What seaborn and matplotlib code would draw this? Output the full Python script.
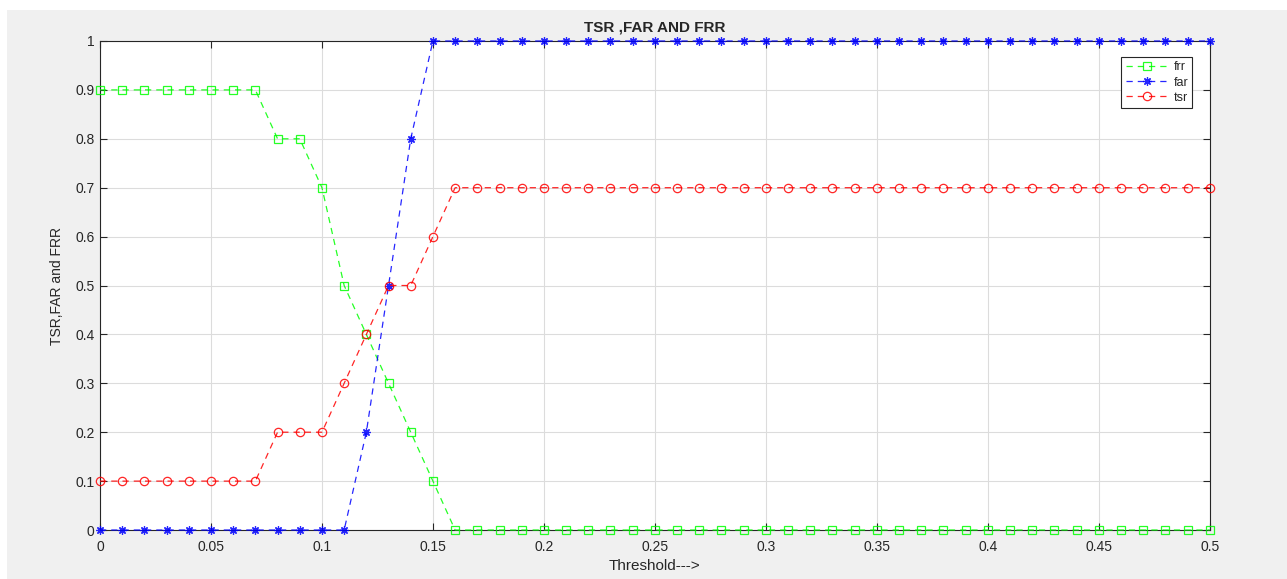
import numpy as np
import matplotlib
matplotlib.use("Agg")
import matplotlib.pyplot as plt
import seaborn as sns
from matplotlib.patches import Rectangle

# Threshold values (0 to 0.5 in steps of 0.01)
threshold = [round(i * 0.01, 2) for i in range(51)]

# False rejection rate
frr = [0.9, 0.9, 0.9, 0.9, 0.9, 0.9, 0.9, 0.9, 0.8, 0.8,
       0.7, 0.5, 0.4, 0.3, 0.2, 0.1] + [0.0] * 35
# False acceptance rate
far = [0.0] * 12 + [0.2, 0.5, 0.8] + [1.0] * 36
# True success rate
tsr = [0.1, 0.1, 0.1, 0.1, 0.1, 0.1, 0.1, 0.1, 0.2, 0.2,
       0.2, 0.3, 0.4, 0.5, 0.5, 0.6] + [0.7] * 35

series_names = ["frr", "far", "tsr"]
series_colors = ["#00ff00", "#0000ff", "#ff0000"]
series_markers = ["s", (8, 2, 0), "o"]

sns.set_style("whitegrid")
plt.rcParams["font.family"] = ["Liberation Sans", "DejaVu Sans"]

fig = plt.figure(figsize=(12.87, 5.79), dpi=100, facecolor="white")
# grey figure panel like the MATLAB window, with a thin white border top/left
fig.patches.append(Rectangle((7 / 1287, 0), 1, 1 - 10 / 579, transform=fig.transFigure,
                             facecolor="#f0f0f0", edgecolor="none", zorder=-10))
ax = fig.add_axes([0.0777, 0.0846, 0.8623, 0.8446])
ax.set_facecolor("white")

for name, vals, col, mk in zip(series_names, [frr, far, tsr], series_colors, series_markers):
    sns.lineplot(x=threshold, y=vals, ax=ax, color=col, linestyle="--", linewidth=0.9,
                 marker=mk, markersize=6 if mk != "s" else 5.5,
                 markerfacecolor="none",
                 markeredgecolor=col, markeredgewidth=0.9, label=name, alpha=0.85,
                 clip_on=False, zorder=3)

for ln in ax.lines:
    ln.set_dashes([5, 4])

ax.set_xlim(0, 0.5)
ax.set_ylim(0, 1)
ax.set_xticks(np.arange(0, 0.51, 0.05))
ax.set_xticklabels(["0", "0.05", "0.1", "0.15", "0.2", "0.25", "0.3", "0.35", "0.4", "0.45", "0.5"])
ax.set_yticks(np.arange(0, 1.01, 0.1))
ax.set_yticklabels(["0", "0.1", "0.2", "0.3", "0.4", "0.5", "0.6", "0.7", "0.8", "0.9", "1"])
ax.tick_params(direction="in", length=5, color="#262626", labelsize=10,
               labelcolor="#262626", top=True, right=True, left=True, bottom=True, pad=4)
ax.tick_params(axis="x", pad=7)
ax.grid(True, color="#dcdcdc", linewidth=0.8)
for s in ax.spines.values():
    s.set_color("#262626")
    s.set_linewidth(0.8)

ax.set_title("TSR ,FAR AND FRR", fontsize=11, fontweight="bold", pad=7)
ax.set_xlabel("Threshold--->", fontsize=11, color="#262626", labelpad=4)
ax.set_ylabel("TSR,FAR and FRR", fontsize=10, color="#262626", labelpad=8)

leg = ax.legend(loc="upper right", bbox_to_anchor=(0.99, 0.98), fontsize=9,
                frameon=True, fancybox=False, edgecolor="#262626", framealpha=1,
                handlelength=3.4, borderpad=0.35, labelspacing=0.25, handletextpad=0.4)
leg.get_frame().set_linewidth(0.8)

fig.savefig("out.png", dpi=100, facecolor=fig.get_facecolor())
